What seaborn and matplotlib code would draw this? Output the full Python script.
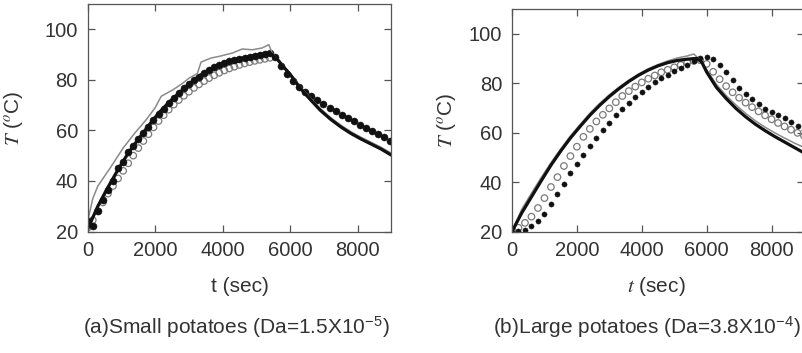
import matplotlib
matplotlib.use("Agg")
import matplotlib.pyplot as plt
import seaborn as sns

# ----------------------------------------------------------
# Data (time in s, temperature in deg C)
# ----------------------------------------------------------
# (a) small potatoes
L_LINE_T = [0, 300, 600, 900, 1200, 1500, 1800, 2100, 2400, 2700, 3000, 3300,
            3600, 3900, 4200, 4500, 4800, 5100, 5400, 5600, 5800, 6000, 6300,
            6600, 6900, 7200, 7500, 7800, 8100, 8400, 8700, 9000]
L_LINE = [21, 30, 37.5, 44.5, 51, 56.5, 61.8, 66.8, 71, 74.7, 78.3, 81.5,
          84, 86, 87.4, 88.4, 89.2, 89.9, 90.7, 88.5, 85.2, 82.2, 76.7,
          72.2, 67.9, 64.4, 61.4, 58.8, 56.6, 54.6, 52.6, 50.2]

L_GRAY_T = [0, 150, 300, 660, 1050, 1400, 1740, 2000, 2180, 2520, 2800, 3010,
            3250, 3360, 3500, 3650, 3900, 4290, 4580, 4880, 5170, 5370, 5470,
            5600, 5800, 6000, 6300, 6600, 6900, 7200, 7500, 7800, 8100, 8400,
            8700, 9000]
L_GRAY = [24, 33, 38, 45, 53, 59, 64.3, 69, 73.5, 76, 78.5, 80.7,
          82.5, 87, 87.8, 88.6, 89.3, 90.6, 92.2, 91.9, 92.6, 93.9, 90.5,
          88.8, 85.6, 82.6, 77.3, 72.8, 68.6, 65.1, 62.1, 59.5, 57.3, 55.3,
          53.3, 51]

L_OPEN_T = list(range(0, 5401, 150))
L_OPEN = [21.5, 24.5, 28, 31.5, 35, 38, 41, 44, 47, 50, 53, 55.8, 58.5, 61.2,
          63.7, 66, 68.2, 70.2, 72, 73.7, 75.3, 76.8, 78.2, 79.5, 80.7, 81.8,
          82.8, 83.7, 84.5, 85.2, 85.9, 86.5, 87, 87.5, 87.9, 88.3, 88.7]

L_FILL_T = list(range(0, 5401, 150)) + [5550, 5730, 5910, 6090, 6270, 6450,
                                        6630, 6810, 6990, 7170, 7350, 7530,
                                        7710, 7890, 8070, 8250, 8430, 8610,
                                        8790, 8970]
L_FILL = [24, 22, 28, 32.5, 36.5, 40, 45, 47.5, 51.5, 54, 56.5, 59, 61.5, 64,
          66.5, 68.5, 70.8, 72.8, 74.8, 76.6, 78.2, 79.8, 81.2, 82.6, 83.9, 85,
          86, 86.8, 87.5, 88, 88.4, 88.8, 89.2, 89.5, 89.8, 90.3, 90.8,
          89, 85.5, 82.3, 79.6, 77.3, 75.3, 73.5, 71.9, 70.4, 69, 67.6, 66.2,
          64.9, 63.6, 62.3, 61.1, 59.9, 58.7, 57.4, 56]

# (b) large potatoes
R_LINE_T = [0, 300, 600, 900, 1200, 1500, 1800, 2100, 2400, 2700, 3000, 3300,
            3600, 3900, 4200, 4500, 4800, 5100, 5400, 5700, 5850, 6000, 6300,
            6600, 6900, 7200, 7500, 7800, 8100, 8400, 8700, 9000]
R_LINE = [20, 27.5, 34, 40.5, 46.8, 52.5, 57.8, 62.5, 67, 71, 74.6, 77.8,
          80.7, 83.2, 85.3, 87, 88.3, 89.2, 89.7, 90, 88.5, 84.5, 78.3,
          73.8, 69.8, 66.4, 63.4, 60.8, 58.4, 56.2, 54, 51.8]

R_GRAY_T = [0, 300, 600, 900, 1200, 1500, 1800, 2100, 2400, 2700, 3000, 3300,
            3600, 3900, 4200, 4500, 4800, 5100, 5400, 5600, 5750, 6000, 6300,
            6600, 6900, 7200, 7500, 7800, 8100, 8400, 8700, 9000]
R_GRAY = [20, 29, 35.5, 41.8, 47.8, 53.4, 58.6, 63.3, 67.8, 71.8, 75.3, 78.4,
          81.2, 83.7, 85.8, 87.5, 89, 90.2, 91, 91.8, 90, 85.5, 79.5,
          75, 71.2, 67.8, 64.8, 62.2, 59.9, 57.8, 55.8, 54]

R_DOT_T = list(range(0, 9001, 200))
R_OPEN = [20.3, 21.5, 23.5, 26, 29.5, 33.5, 38, 42, 46.5, 50.5,
          54.3, 58.3, 61.5, 64.5, 67.2, 69.8, 72.3, 74.8, 76.8, 78.6,
          80.3, 81.8, 83.1, 84.4, 85.4, 86.4, 87.4, 88.3, 89, 89.3,
          87.8, 84.6, 81.6, 78.8, 76.3, 74.1, 72.1, 70.3, 68.6, 67,
          65.4, 63.9, 62.5, 61.2, 59.9, 58.7]
R_FILL = [20, 20.3, 20.8, 22.4, 24.4, 27, 31.2, 35.3, 39.4, 43.5,
          47.5, 51, 54.5, 58, 61, 64, 67, 69.5, 72, 74.5,
          76.5, 78.5, 80.3, 82, 83.5, 85, 86.3, 87.5, 88.8, 90,
          90.5, 89.6, 87.3, 84.5, 81.3, 78.2, 75.8, 73.4, 71.4, 69.7,
          68.4, 67.1, 65.8, 64.2, 62.6, 60.9]

X_TICKS = [0, 2000, 4000, 6000, 8000]
Y_TICKS = [20, 40, 60, 80, 100]

# ----------------------------------------------------------
# Figure
# ----------------------------------------------------------
sns.set_theme(style="ticks")
plt.rcParams["font.family"] = ["Liberation Sans", "DejaVu Sans"]
plt.rcParams["mathtext.fontset"] = "stix"

W, H = 803, 353
fig = plt.figure(figsize=(W / 100, H / 100), dpi=100)


def box(x0, x1, y0, y1):
    # pixel box -> figure fraction
    return [x0 / W, 1 - y1 / H, (x1 - x0) / W, (y1 - y0) / H]


ax1 = fig.add_axes(box(87.7, 391.3, 4, 231.5))
ax2 = fig.add_axes(box(512, 804, 9, 231.5))


def draw(ax, gray_t, gray, line_t, line, open_t, opn, fill_t, fill, fill_s):
    sns.lineplot(x=gray_t, y=gray, ax=ax, color="#8a8a8a", lw=1.1,
                 estimator=None, sort=False)
    sns.scatterplot(x=open_t, y=opn, ax=ax, s=22, color="#7a7a7a")
    coll = ax.collections[-1]
    coll.set_facecolor("none")
    coll.set_edgecolor("#7a7a7a")
    coll.set_linewidth(0.9)
    sns.lineplot(x=line_t, y=line, ax=ax, color="#111111", lw=2.3,
                 estimator=None, sort=False)
    sns.scatterplot(x=fill_t, y=fill, ax=ax, s=fill_s, color="#111111",
                    edgecolor="#111111", linewidth=0.3)

    ax.set_xlim(0, 9000)
    ax.set_ylim(20, 110)
    ax.set_xticks(X_TICKS)
    ax.set_yticks(Y_TICKS)
    ax.tick_params(direction="in", top=True, right=True, length=5, width=0.9,
                   colors="#555555", labelcolor="#333333", labelsize=14.5,
                   pad=7)
    for sp in ax.spines.values():
        sp.set_color("#555555")
        sp.set_linewidth(0.9)
    ax.set_xlabel("")
    ax.set_ylabel("")


draw(ax1, L_GRAY_T, L_GRAY, L_LINE_T, L_LINE, L_OPEN_T, L_OPEN,
     L_FILL_T, L_FILL, 26)
draw(ax2, R_GRAY_T, R_GRAY, R_LINE_T, R_LINE, R_DOT_T, R_OPEN,
     R_DOT_T, R_FILL, 14)

txt = dict(color="#333333", ha="center", va="center")
fig.text(240 / W, 1 - 287 / H, "t (sec)", fontsize=15, **txt)
fig.text(656 / W, 1 - 287 / H, "$t$ (sec)", fontsize=15, **txt)
fig.text(14 / W, 1 - 118 / H, "$T$ ($^o$C)", fontsize=15, rotation=90, **txt)
fig.text(447 / W, 1 - 120 / H, "$T$ ($^o$C)", fontsize=15, rotation=90, **txt)
fig.text(236 / W, 1 - 327 / H, "(a)Small potatoes (Da=1.5X10$^{\\mathregular{-5}}$)",
         fontsize=15, **txt)
fig.text(647 / W, 1 - 327 / H, "(b)Large potatoes (Da=3.8X10$^{\\mathregular{-4}}$)",
         fontsize=15, **txt)

fig.savefig("out.png", dpi=100)
